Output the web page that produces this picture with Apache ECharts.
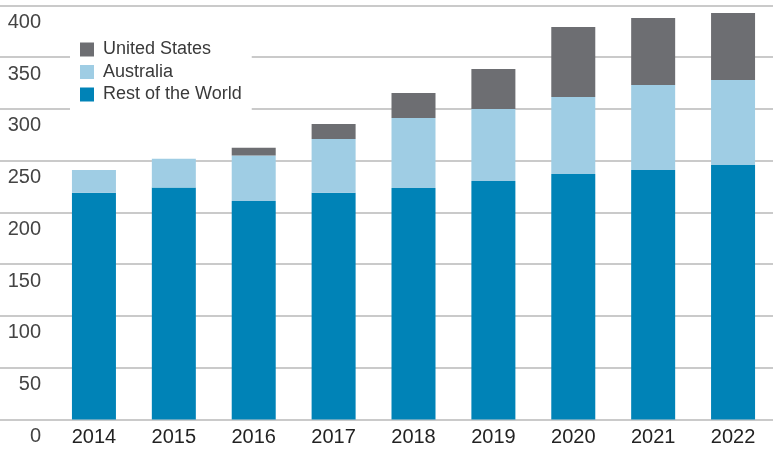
<!DOCTYPE html>
<html>
<head>
<meta charset="utf-8">
<script src="https://cdn.jsdelivr.net/npm/echarts@6/dist/echarts.min.js"></script>
<style>html,body{margin:0;padding:0;background:#fff}#c{width:773px;height:467px}</style>
</head>
<body>
<div id="c"></div>
<script>
var years = ['2014','2015','2016','2017','2018','2019','2020','2021','2022'];
var restOfWorld = [219, 224, 211, 219, 223.6, 230.4, 237.1, 241, 245.8];
var australia = [22, 27.7, 44, 51.9, 67.6, 69.5, 74.3, 82, 82.1];
var unitedStates = [0, 0, 7.5, 14.5, 24.1, 38.6, 67.6, 64.7, 64.6];
var yMin = 0, yMax = 400, yStep = 50;

var FONT = '"Liberation Sans", Arial, sans-serif';
var chart = echarts.init(document.getElementById('c'));
var splitLine = {show: true, lineStyle: {color: '#b8b8b8', width: 1.6}};
chart.setOption({
  animation: false,
  textStyle: {fontFamily: FONT},
  grid: [
    {left: 54, width: 720, top: 5.3, bottom: 47.5},
    {left: 0, width: 54, top: 5.3, bottom: 47.5}
  ],
  legend: {
    data: ['United States', 'Australia', 'Rest of the World'],
    orient: 'vertical',
    left: 70, top: 30.5,
    padding: [10, 10, 8, 10],
    backgroundColor: '#ffffff',
    icon: 'rect',
    itemWidth: 14, itemHeight: 14,
    itemGap: 4.5,
    textStyle: {fontSize: 18, color: '#3a3a3a', fontFamily: FONT, lineHeight: 18, padding: [0, 0, 0, 4]}
  },
  xAxis: [
    {type: 'category', data: years, gridIndex: 0,
     axisLine: {show: false}, axisTick: {show: false},
     axisLabel: {fontSize: 20, color: '#222', margin: 8, fontFamily: FONT}},
    {type: 'category', data: [''], gridIndex: 1, show: false}
  ],
  yAxis: [
    {type: 'value', gridIndex: 0, min: yMin, max: yMax, interval: yStep,
     axisLabel: {show: false}, axisLine: {show: false}, axisTick: {show: false},
     splitLine: splitLine},
    {type: 'value', gridIndex: 1, min: yMin, max: yMax, interval: yStep,
     axisLine: {show: false}, axisTick: {show: false},
     splitLine: splitLine,
     axisLabel: {fontSize: 20, color: '#444', margin: -41, align: 'right',
                 verticalAlign: 'top', lineHeight: 34, fontFamily: FONT}}
  ],
  series: [
    {name: 'Rest of the World', type: 'bar', stack: 'total', data: restOfWorld,
     barWidth: 44, itemStyle: {color: '#0083b7'}, xAxisIndex: 0, yAxisIndex: 0},
    {name: 'Australia', type: 'bar', stack: 'total', data: australia,
     barWidth: 44, itemStyle: {color: '#9fcde4'}, xAxisIndex: 0, yAxisIndex: 0},
    {name: 'United States', type: 'bar', stack: 'total', data: unitedStates,
     barWidth: 44, itemStyle: {color: '#6d6e72'}, xAxisIndex: 0, yAxisIndex: 0}
  ]
});
</script>
</body>
</html>
